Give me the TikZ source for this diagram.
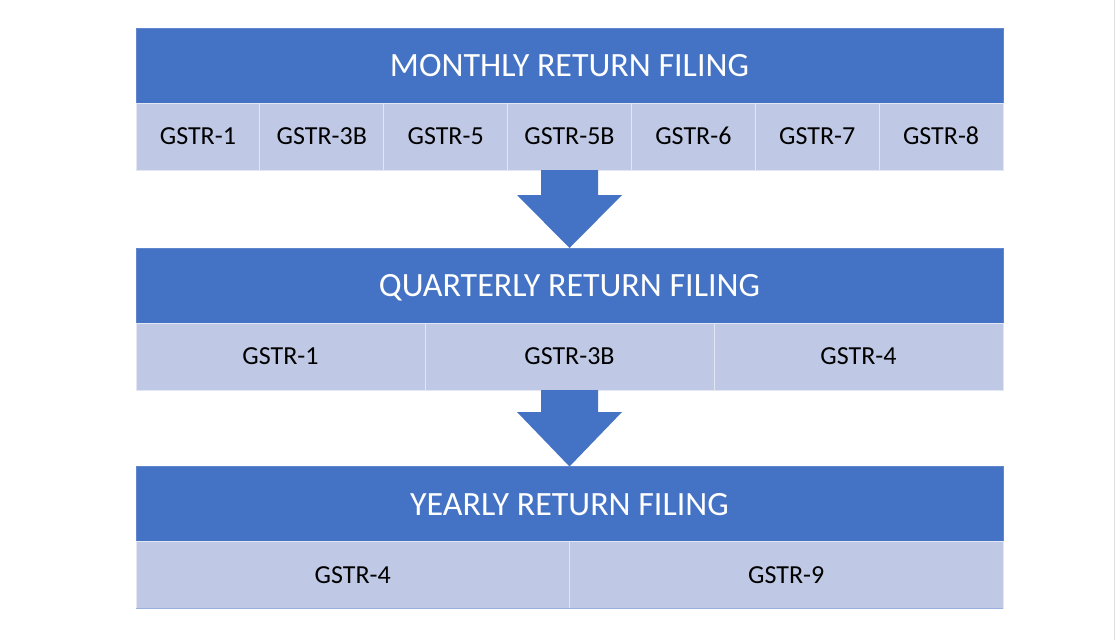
\documentclass[tikz,border=0pt]{standalone}
\usepackage{fontspec}
\setmainfont{Carlito}
\usetikzlibrary{positioning,calc}
\definecolor{headblue}{HTML}{4472C4}
\definecolor{cellblue}{HTML}{BFC9E5}

\begin{document}
\begin{tikzpicture}
[x=1pt, y=-1pt, line width=1pt, node distance=0pt,
  headbox/.style={rectangle, minimum width=867pt, minimum height=75pt, inner sep=0pt, outer sep=0pt, text height=22pt, text depth=0pt, fill=headblue, draw=headblue!85!white, text=white, font=\fontsize{34}{40}\selectfont},
  cellbox/.style={rectangle, minimum height=67pt, inner sep=0pt, outer sep=0pt, text height=16.7pt, text depth=0pt, fill=cellblue, draw=white!55!cellblue, font=\fontsize{26}{31}\selectfont},
  blockarrow/.style={fill=headblue, draw=none}
]
  \useasboundingbox (0,0) rectangle (1116,640);
  \draw[black!12] (1114.5,0) -- (1114.5,640);

  % monthly
  \node[headbox] (mhead) at (569.5,65.5) {MONTHLY RETURN FILING};
  \node[cellbox, minimum width=123.86pt, anchor=north west] (m1) at (mhead.south west) {GSTR-1};
  \node[cellbox, minimum width=123.86pt, right=of m1] (m2) {GSTR-3B};
  \node[cellbox, minimum width=123.86pt, right=of m2] (m3) {GSTR-5};
  \node[cellbox, minimum width=123.86pt, right=of m3] (m4) {GSTR-5B};
  \node[cellbox, minimum width=123.86pt, right=of m4] (m5) {GSTR-6};
  \node[cellbox, minimum width=123.86pt, right=of m5] (m6) {GSTR-7};
  \node[cellbox, minimum width=123.86pt, right=of m6] (m7) {GSTR-8};

  % quarterly
  \node[headbox] (qhead) at (569.5,285.5) {QUARTERLY RETURN FILING};
  \node[cellbox, minimum width=289pt, anchor=north west] (q1) at (qhead.south west) {GSTR-1};
  \node[cellbox, minimum width=289pt, right=of q1] (q2) {GSTR-3B};
  \node[cellbox, minimum width=289pt, right=of q2] (q3) {GSTR-4};

  % yearly
  \node[headbox] (yhead) at (569.5,504) {YEARLY RETURN FILING};
  \node[cellbox, minimum width=433.5pt, anchor=north west] (y1) at (yhead.south west) {GSTR-4};
  \node[cellbox, minimum width=433.5pt, right=of y1] (y2) {GSTR-9};
  \draw[headblue!55!white] (y1.south west) -- (y2.south east);

  % arrows
  \fill[blockarrow] ($(m4.south)+(-28.5,0)$) -- ++(57,0) -- ++(0,25) -- ++(24,0)
    -- (qhead.north) -- ($(m4.south)+(-52.5,25)$) -- ++(24,0) -- cycle;
  \fill[blockarrow] ($(q2.south)+(-28.5,0)$) -- ++(57,0) -- ++(0,22) -- ++(24,0)
    -- (yhead.north) -- ($(q2.south)+(-52.5,22)$) -- ++(24,0) -- cycle;
\end{tikzpicture}
\end{document}
